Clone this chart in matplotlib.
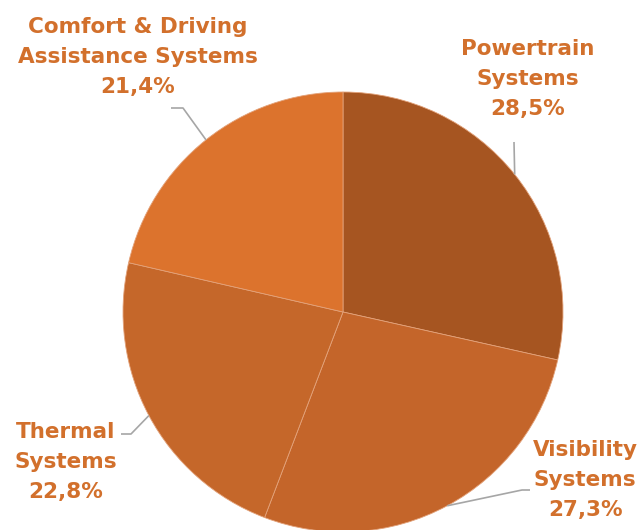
import numpy as np
import matplotlib
matplotlib.use("Agg")
from matplotlib import pyplot as plt

# data
labels = ["Powertrain\nSystems", "Visibility\nSystems", "Thermal\nSystems", "Comfort & Driving\nAssistance Systems"]
shares = [28.5, 27.3, 22.8, 21.4]
share_text = ["28,5%", "27,3%", "22,8%", "21,4%"]
colors = ["#A65521", "#C4652A", "#C5672A", "#DC732D"]

W, H = 641, 530
cx, cy, r = 343, H - 312, 220

fig = plt.figure(figsize=(W / 100, H / 100), dpi=100)
ax = fig.add_axes([0, 0, 1, 1])

wedges, _ = ax.pie(shares, colors=colors, startangle=90, counterclock=False,
                   radius=r, center=(cx, cy), frame=True,
                   wedgeprops=dict(edgecolor="#E3A27A", linewidth=0.6))
ax.set_xlim(0, W)
ax.set_ylim(0, H)
ax.set_aspect("equal")
ax.axis("off")

# label block centres and leader elbows (pixel layout, y from top)
text_pos = [(528, 79), (585, 480), (66, 462), (138, 57)]
elbows = [
    [(514, 142)],
    [(522, 490), (530, 490)],
    [(131, 434), (121, 434)],
    [(183, 108), (171, 108)],
]

for w, lab, pct, (tx, ty), elb in zip(wedges, labels, share_text, text_pos, elbows):
    mid = np.deg2rad((w.theta1 + w.theta2) / 2)
    x0 = cx + r * np.cos(mid)
    y0 = cy + r * np.sin(mid)
    xs = [x0] + [p[0] for p in elb]
    ys = [y0] + [H - p[1] for p in elb]
    ax.plot(xs, ys, color="#A6A6A6", lw=1.2, solid_capstyle="butt")
    ax.text(tx, H - ty, lab + "\n" + pct, ha="center", va="center",
            fontsize=15.5, fontweight="bold", family="DejaVu Sans", color="#D2702C",
            linespacing=1.6)

fig.savefig("out.png", dpi=100, facecolor="white")
